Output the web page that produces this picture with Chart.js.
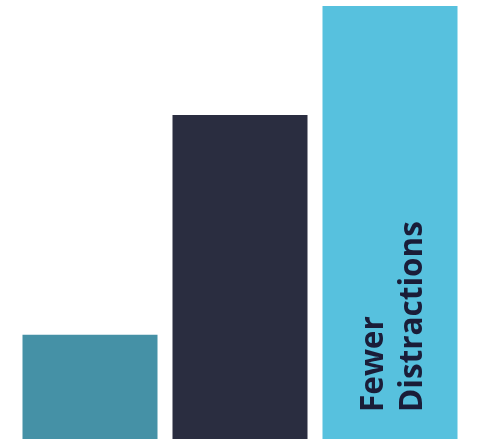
<!DOCTYPE html>
<html>
<head>
<meta charset="utf-8">
<script src="https://cdn.jsdelivr.net/npm/chart.js@4"></script>
<style>
html,body{margin:0;padding:0;background:#fff;}
#wrap{width:477px;height:439px;position:relative;}
</style>
</head>
<body>
<div id="wrap"><canvas id="c"></canvas></div>
<script>
const categories = ["A", "B", "Fewer Distractions"];
const values = [24.1, 74.8, 100];
const barColors = ["#4591a6", "#2a2d40", "#57c1de"];
const labelLines = ["Fewer", "Distractions"];

const labelPlugin = {
  id: 'barLabel',
  afterDatasetsDraw(chart) {
    const meta = chart.getDatasetMeta(0);
    const bar = meta.data[2];
    const ctx = chart.ctx;
    ctx.save();
    ctx.translate(bar.x, chart.chartArea.bottom - 27);
    ctx.rotate(-Math.PI / 2);
    ctx.font = 'bold 31.5px "Open Sans"';
    ctx.fillStyle = '#1a1d38';
    ctx.textAlign = 'left';
    ctx.textBaseline = 'alphabetic';
    ctx.fillText(labelLines[0], 0, -7);
    ctx.fillText(labelLines[1], 0, 32);
    ctx.restore();
  }
};

new Chart(document.getElementById('c'), {
  type: 'bar',
  data: {
    labels: categories,
    datasets: [{
      data: values,
      backgroundColor: barColors,
      borderWidth: 0,
      barPercentage: 0.9,
      categoryPercentage: 1.0
    }]
  },
  options: {
    responsive: true,
    maintainAspectRatio: false,
    animation: false,
    layout: { padding: { top: 6, left: 15, right: 12, bottom: 0 } },
    plugins: { legend: { display: false }, tooltip: { enabled: false } },
    scales: {
      x: { display: false },
      y: { display: false, min: 0, max: 100 }
    }
  },
  plugins: [labelPlugin]
});
</script>
</body>
</html>
